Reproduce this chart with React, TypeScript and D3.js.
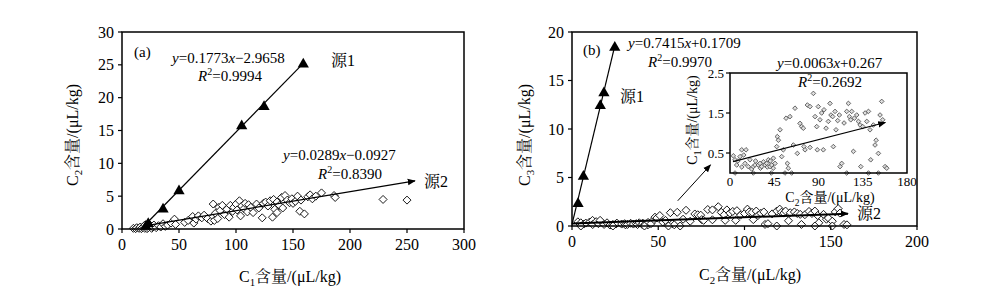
import React from "react";
import * as d3 from "d3";

// ---------- data ----------
const A_X_TICKS = [0, 50, 100, 150, 200, 250, 300];
const A_Y_TICKS = [0, 5, 10, 15, 20, 25, 30];
const B_X_TICKS = [0, 50, 100, 150, 200];
const B_Y_TICKS = [0, 5, 10, 15, 20];
const IN_X_TICKS = [0, 45, 90, 135, 180];
const IN_Y_TICKS = [0.5, 1.5, 2.5];

// (a) source 1: C1 vs C2 (triangles)
const A_SRC1: [number, number][] = [
  [21, 0.4], [23, 0.8], [36, 3.0], [50, 5.8], [105, 15.7], [124.6, 18.6], [159, 25.1],
];
// (a) source 2: C1 vs C2 (diamonds)
const A_SRC2: [number, number][] = [
  [10, 0.1], [12, 0.05], [13, 0.2], [15, 0.1], [16, 0.3], [17, 0.05], [18, 0.2], [19, 0.4],
  [20, 0.1], [20, 0.6], [21, 0.3], [22, 0.5], [22, 0.05], [23, 0.2], [24, 0.7], [25, 0.4],
  [26, 0.1], [27, 0.3], [28, 0.6], [30, 0.2], [32, 0.5], [34, 0.3], [36, 0.8], [38, 0.4],
  [40, 0.6], [43, 0.9], [46, 1.5], [47, 0.7], [55, 1.0], [58, 1.3], [62, 1.9], [63, 0.9],
  [65, 1.5], [67, 2.0], [70, 1.7], [72, 2.1], [75, 1.6], [78, 1.2], [80, 3.8], [80, 1.9],
  [81, 1.3], [82, 2.4], [84, 1.6], [85, 3.3], [86, 2.8], [88, 3.6], [90, 2.2], [92, 3.0],
  [94, 1.8], [95, 3.6], [97, 2.7], [98, 3.3], [100, 3.8], [101, 2.9], [103, 4.3], [104, 2.0],
  [105, 3.5], [107, 3.1], [108, 3.9], [110, 2.6], [111, 3.7], [113, 3.3], [115, 2.5], [118, 3.8],
  [120, 3.2], [123, 1.7], [124, 3.9], [126, 4.1], [128, 3.5], [130, 4.3], [132, 1.8], [133, 4.5],
  [134, 3.0], [136, 2.5], [136, 4.1], [138, 3.6], [140, 4.8], [141, 3.2], [143, 5.1], [145, 4.4],
  [147, 4.0], [149, 4.6], [150, 3.9], [152, 4.2], [154, 5.0], [156, 2.7], [157, 4.4], [160, 2.3],
  [163, 4.9], [165, 5.2], [167, 4.6], [170, 5.0], [175, 5.5], [186, 5.1], [187, 4.8], [229, 4.5],
  [250, 4.4],
];
// (b) source 1: C2 vs C3 (triangles)
const B_SRC1: [number, number][] = [
  [3.5, 2.3], [6.6, 5.1], [16.4, 12.4], [18.5, 13.7], [24.8, 18.4],
];
// (b) source 2 / inset: C2 vs C3
const B_SRC2: [number, number][] = [
  [3.4, 0.43], [5.1, 0.33], [6.8, 0.2], [8, 0.3], [10.2, 0.41], [11.9, 0.58], [12, 0.15],
  [14, 0.45], [15.3, 0.24], [16.3, 0.58], [18.6, 0.16], [20.3, 0.33], [22, 0.1], [23.7, 0.16],
  [25.4, 0.2], [26, 0.3], [28.8, 0.2], [30.5, 0.24], [31, 0.12], [32.2, 0.16], [34, 0.28],
  [35.6, 0.2], [37.3, 0.24], [38, 0.15], [39, 0.33], [40.7, 0.16], [41, 0.3], [42.4, 0.2],
  [44, 0.12], [44.1, 0.37], [45.8, 0.24], [47.5, 0.66], [48.1, 0.91], [49.2, 0.82], [50.9, 1.08],
  [52.6, 0.41], [54.2, 0.58], [57, 1.37], [58.3, 0.24], [59.3, 0.12], [61, 1.41], [64.4, 0.7],
  [66.1, 1.62], [68.5, 0.49], [71.2, 1.24], [72.9, 1.16], [74.6, 1.12], [75.2, 0.66], [76.3, 0.58],
  [78.7, 1.7], [81.4, 1.66], [81.4, 0.64], [84.8, 1.99], [86.5, 1.41], [88.2, 1.16], [88.8, 0.58],
  [89.8, 1.66], [91.5, 1.33], [93.2, 1.5], [94.9, 0.58], [95.6, 1.58], [97.7, 1.12], [100, 1.29],
  [101.7, 1.74], [102.7, 1.45], [104.4, 1.41], [105.1, 0.66], [106.8, 1.54], [107.8, 1.08],
  [109.5, 1.31], [111.2, 1.45], [111.9, 0.16], [113.6, 0.24], [116, 1.25], [118.7, 1.54],
  [120.4, 1.74], [121.4, 1.41], [122.8, 1.33], [123.8, 1.54], [125.5, 0.54], [126.5, 1.37],
  [128.9, 1.45], [130.6, 1.29], [132.3, 1.2], [133, 0.16], [135, 1.16], [137.4, 1.5], [139.1, 1.29],
  [140.8, 1.54], [142.4, 1.08], [143.1, 0.33], [145.8, 1.2], [147.5, 0.7], [148.6, 0.82],
  [150.9, 0.49], [152.6, 1.45], [154.3, 1.79], [155.3, 1.33], [157.7, 0.16], [159.4, 0.12],
  [5.1, 0], [23.7, 0], [42, 0], [55.9, 0], [62.7, 0], [118.7, 0], [140.8, 0], [150.9, 0],
];

// fitted lines: [slope, intercept, xStart, xEnd]
const A_FIT1 = [0.1773, -2.9658, 21, 159];
const A_FIT2 = [0.0289, -0.0927, 20, 257];
const B_FIT1 = [0.7415, 0.1709, 0, 24.8];
const B_FIT2 = [0.0063, 0.267, 0, 160];
const IN_FIT = [0.0063, 0.267, 3, 158];
// pointer from main (b) data area to inset (data units of b)
const B_POINTER = [[61.3, 2.6], [80.3, 6.3]];

const FONT = "'Liberation Serif','Times New Roman','Noto Serif CJK SC','Noto Sans CJK SC',serif";

const diamond = (size: number) => {
  const h = size / 2;
  return `M0,${-h}L${h},0L0,${h}L${-h},0Z`;
};
const triangle = d3.symbol().type(d3.symbolTriangle).size(55)();

function Label({ x, y, sub, rotate = false, size = 16 }: { x: number; y: number; sub: string; rotate?: boolean; size?: number }) {
  return (
    <text
      x={0}
      y={0}
      transform={`translate(${x},${y})${rotate ? " rotate(-90)" : ""}`}
      textAnchor="middle"
      fontSize={size}
      fontFamily={FONT}
    >
      <tspan>C</tspan>
      <tspan fontSize={size * 0.68} dy={size * 0.25}>{sub}</tspan>
      <tspan dy={-size * 0.25}>含量/(μL/kg)</tspan>
    </text>
  );
}

function Eq({ x, y, a, b, size = 15 }: { x: number; y: number; a: string; b: string; size?: number }) {
  return (
    <text x={x} y={y} fontSize={size} fontFamily={FONT}>
      <tspan fontStyle="italic">y</tspan>
      <tspan>={a}</tspan>
      <tspan fontStyle="italic">x</tspan>
      <tspan>{b}</tspan>
    </text>
  );
}

function R2({ x, y, v, size = 15 }: { x: number; y: number; v: string; size?: number }) {
  return (
    <text x={x} y={y} fontSize={size} fontFamily={FONT}>
      <tspan fontStyle="italic">R</tspan>
      <tspan fontSize={10} dy={-6}>2</tspan>
      <tspan dy={6}>={v}</tspan>
    </text>
  );
}

export default function App() {
  // panel (a)
  const ax = d3.scaleLinear().domain([0, 300]).range([122, 464]);
  const ay = d3.scaleLinear().domain([0, 30]).range([229, 32]);
  // panel (b)
  const bx = d3.scaleLinear().domain([0, 200]).range([572, 917]);
  const by = d3.scaleLinear().domain([0, 20]).range([226, 32]);
  // inset
  const ix = d3.scaleLinear().domain([0, 180]).range([730, 907]);
  const iy = d3.scaleLinear().domain([0, 2.5]).range([173, 73]);

  const fitLine = (f: number[], sx: any, sy: any) =>
    d3.line()([
      [sx(f[2]), sy(f[0] * f[2] + f[1])],
      [sx(f[3]), sy(f[0] * f[3] + f[1])],
    ]) as string;

  const frame = (sx: any, sy: any) => {
    const [x0, x1] = sx.range();
    const [y0, y1] = sy.range();
    return <rect x={x0} y={y1} width={x1 - x0} height={y0 - y1} fill="none" stroke="#000" strokeWidth={1.5} />;
  };

  const xAxis = (sx: any, sy: any, ticks: number[], fs: number, len: number, off: number) => (
    <g>
      {ticks.map((t) => (
        <g key={t}>
          <line x1={sx(t)} x2={sx(t)} y1={sy.range()[0]} y2={sy.range()[0] + len} stroke="#000" strokeWidth={1.2} />
          <text x={sx(t)} y={sy.range()[0] + off} textAnchor="middle" fontSize={fs} fontFamily={FONT}>
            {t}
          </text>
        </g>
      ))}
    </g>
  );
  const yAxis = (sx: any, sy: any, ticks: number[], fs: number, len: number, off: number) => (
    <g>
      {ticks.map((t) => (
        <g key={t}>
          <line x1={sx.range()[0] - len} x2={sx.range()[0]} y1={sy(t)} y2={sy(t)} stroke="#000" strokeWidth={1.2} />
          <text x={sx.range()[0] - off} y={sy(t) + fs * 0.35} textAnchor="end" fontSize={fs} fontFamily={FONT}>
            {t}
          </text>
        </g>
      ))}
    </g>
  );

  const dPath = diamond(8);
  const dSmall = diamond(4.6);

  return (
    <svg width={1000} height={299} style={{ position: "absolute", left: 0, top: 0, background: "#fff" }}>
      <defs>
        <marker id="arr" viewBox="0 0 10 10" refX="9" refY="5" markerWidth="8" markerHeight="8" orient="auto" markerUnits="userSpaceOnUse">
          <path d="M0,1L10,5L0,9Z" fill="#000" />
        </marker>
      </defs>

      {/* ---------- panel (a) ---------- */}
      {A_SRC2.map((d, i) => (
        <path key={i} d={dPath} transform={`translate(${ax(d[0])},${ay(d[1])})`} fill="#fff" stroke="#000" strokeWidth={0.9} />
      ))}
      <path d={fitLine(A_FIT1, ax, ay)} stroke="#000" strokeWidth={1.2} fill="none" />
      <path d={fitLine(A_FIT2, ax, ay)} stroke="#000" strokeWidth={1.2} fill="none" markerEnd="url(#arr)" />
      {A_SRC1.map((d, i) => (
        <path key={i} d={triangle as string} transform={`translate(${ax(d[0])},${ay(d[1])})`} fill="#000" />
      ))}
      {frame(ax, ay)}
      {xAxis(ax, ay, A_X_TICKS, 16, 4, 21)}
      {yAxis(ax, ay, A_Y_TICKS, 16, 4, 8)}
      <Label x={290} y={282} sub="1" />
      <Label x={78} y={135} sub="2" rotate />
      <text x={134} y={57} fontSize={15} fontFamily={FONT}>(a)</text>
      <Eq x={172} y={63} a="0.1773" b="−2.9658" />
      <R2 x={198} y={81} v="0.9994" />
      <text x={331} y={66} fontSize={16} fontFamily={FONT}>源1</text>
      <Eq x={283} y={160} a="0.0289" b="−0.0927" />
      <R2 x={318} y={179} v="0.8390" />
      <text x={424} y={187} fontSize={16} fontFamily={FONT}>源2</text>

      {/* ---------- panel (b) ---------- */}
      {B_SRC2.map((d, i) => (
        <path key={i} d={dPath} transform={`translate(${bx(d[0])},${by(d[1])})`} fill="#fff" stroke="#000" strokeWidth={0.9} />
      ))}
      <path d={fitLine(B_FIT2, bx, by)} stroke="#000" strokeWidth={2} fill="none" markerEnd="url(#arr)" />
      <path d={fitLine(B_FIT1, bx, by)} stroke="#000" strokeWidth={1.2} fill="none" />
      {B_SRC1.map((d, i) => (
        <path key={i} d={triangle as string} transform={`translate(${bx(d[0])},${by(d[1])})`} fill="#000" />
      ))}
      <path
        d={d3.line()(B_POINTER.map((p) => [bx(p[0]), by(p[1])] as [number, number])) as string}
        stroke="#000"
        strokeWidth={1}
        fill="none"
        markerEnd="url(#arr)"
      />
      {frame(bx, by)}
      {xAxis(bx, by, B_X_TICKS, 16, 4, 21)}
      {yAxis(bx, by, B_Y_TICKS, 16, 4, 8)}
      <Label x={750} y={280} sub="2" />
      <Label x={530} y={135} sub="3" rotate />
      <text x={583} y={55} fontSize={15} fontFamily={FONT}>(b)</text>
      <Eq x={628} y={48} a="0.7415" b="+0.1709" />
      <R2 x={648} y={67} v="0.9970" />
      <text x={620} y={102} fontSize={16} fontFamily={FONT}>源1</text>
      <text x={857} y={219} fontSize={16} fontFamily={FONT}>源2</text>

      {/* ---------- inset ---------- */}
      <rect x={730} y={73} width={177} height={100} fill="#fff" />
      {B_SRC2.map((d, i) => (
        <path key={i} d={dSmall} transform={`translate(${ix(d[0])},${iy(d[1])})`} fill="#ddd" stroke="#444" strokeWidth={0.8} />
      ))}
      <path d={fitLine(IN_FIT, ix, iy)} stroke="#000" strokeWidth={1.2} fill="none" markerEnd="url(#arr)" />
      {frame(ix, iy)}
      {xAxis(ix, iy, IN_X_TICKS, 13, 0, 13)}
      {yAxis(ix, iy, IN_Y_TICKS, 13, 4, 6)}
      <Label x={830} y={202} sub="2" size={14} />
      <Label x={697} y={120} sub="1" rotate size={14} />
      <Eq x={777} y={68} a="0.0063" b="+0.267" />
      <R2 x={798} y={87} v="0.2692" />
    </svg>
  );
}
